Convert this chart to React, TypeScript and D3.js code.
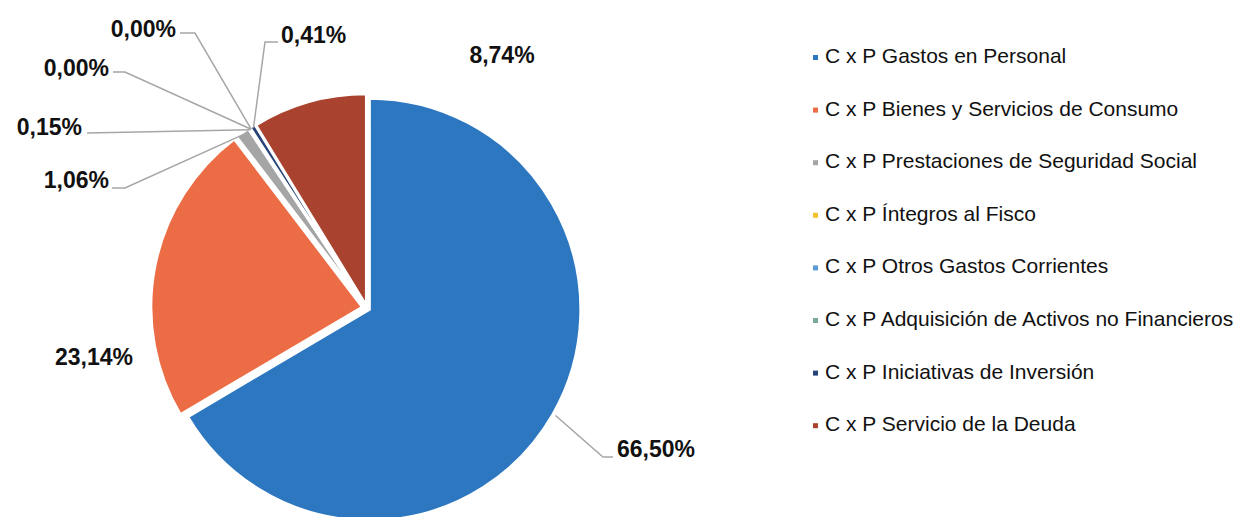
import * as d3 from "d3";

const categories = [
  "C x P Gastos en Personal",
  "C x P Bienes y Servicios de Consumo",
  "C x P Prestaciones de Seguridad Social",
  "C x P Íntegros al Fisco",
  "C x P Otros Gastos Corrientes",
  "C x P Adquisición de Activos no Financieros",
  "C x P Iniciativas de Inversión",
  "C x P Servicio de la Deuda",
];
const values = [66.5, 23.14, 1.06, 0.15, 0.0, 0.0, 0.41, 8.74];
const labels = ["66,50%", "23,14%", "1,06%", "0,15%", "0,00%", "0,00%", "0,41%", "8,74%"];
const COLORS = ["#2c77c0", "#ec6d45", "#a5a5a5", "#f2c12e", "#5b9bd5", "#7aa89c", "#264478", "#a9432f"];

const width = 1243;
const height = 517;
const cx = 367;
const cy = 308;
const radius = 211;

// how far each slice is pulled out
const explode = [3, 5, 4, 4, 4, 4, 4, 3];

// label layout: text anchor point + optional leader elbow
type Lab = { x: number; y: number; anchor: "start" | "end" | "middle"; elbow?: [number, number]; end?: [number, number] };
const labelLayout: Lab[] = [
  { x: 617, y: 457, anchor: "start", elbow: [603, 457], end: [613, 457] },
  { x: 94, y: 365, anchor: "middle" },
  { x: 109, y: 188, anchor: "end", elbow: [125, 188], end: [112, 188] },
  { x: 82, y: 135, anchor: "end", elbow: [87, 133], end: [87, 133] },
  { x: 176, y: 37, anchor: "end", elbow: [195, 33], end: [180, 33] },
  { x: 109, y: 76, anchor: "end", elbow: [125, 72], end: [113, 72] },
  { x: 281, y: 43, anchor: "start", elbow: [265, 42], end: [278, 42] },
  { x: 502, y: 63, anchor: "middle" },
];

const legendX = 815;
const legendY0 = 56;
const legendStep = 52.6;

export default function App() {
  const pie = d3
    .pie<number>()
    .sort(null)
    .value((d) => d);
  const arcs = pie(values);
  const arc = d3.arc<d3.PieArcDatum<number>>().innerRadius(0).outerRadius(radius);

  const font = "'Liberation Sans', Arial, sans-serif";

  return (
    <svg
      width={width}
      height={height}
      viewBox={`0 0 ${width} ${height}`}
      style={{ position: "absolute", left: 0, top: 0, background: "#fff", display: "block" }}
    >
      <g transform={`translate(${cx},${cy})`}>
        {arcs.map((a, i) => {
          const mid = (a.startAngle + a.endAngle) / 2;
          const dx = explode[i] * Math.sin(mid);
          const dy = -explode[i] * Math.cos(mid);
          return (
            <path
              key={i}
              d={arc(a) || ""}
              transform={`translate(${dx},${dy})`}
              fill={COLORS[i]}
              stroke="#fff"
              strokeWidth={2.5}
            />
          );
        })}
      </g>
      {arcs.map((a, i) => {
        const L = labelLayout[i];
        if (!L.elbow) return null;
        const mid = (a.startAngle + a.endAngle) / 2;
        const r0 = radius + (i === 0 ? 6 : 2);
        const sx = cx + r0 * Math.sin(mid);
        const sy = cy - r0 * Math.cos(mid);
        const pts: [number, number][] = [[sx, sy], L.elbow, L.end!];
        return (
          <path
            key={"l" + i}
            d={d3.line()(pts) || ""}
            fill="none"
            stroke="#a6a6a6"
            strokeWidth={1.5}
          />
        );
      })}
      {labels.map((t, i) => (
        <text
          key={"t" + i}
          x={labelLayout[i].x}
          y={labelLayout[i].y}
          textAnchor={labelLayout[i].anchor}
          fontFamily={font}
          fontWeight="bold"
          fontSize={23}
          fill="#111"
        >
          {t}
        </text>
      ))}
      {categories.map((c, i) => {
        const y = legendY0 + i * legendStep;
        return (
          <g key={"g" + i}>
            <rect x={legendX - 2} y={y - 1} width={5} height={5} fill={COLORS[i]} />
            <text x={legendX + 10} y={y + 7} fontFamily={font} fontSize={21} fill="#111">
              {c}
            </text>
          </g>
        );
      })}
    </svg>
  );
}
